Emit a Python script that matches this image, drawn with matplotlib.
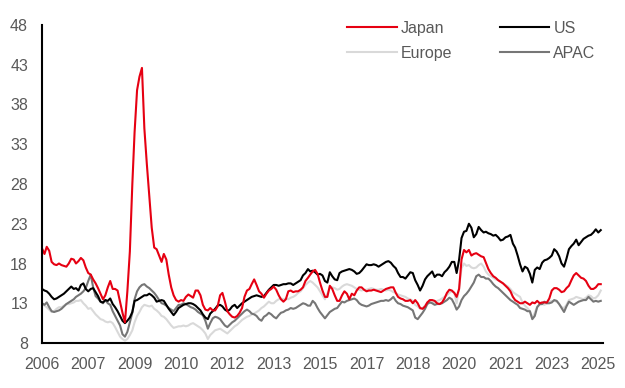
import matplotlib
matplotlib.use("Agg")
import matplotlib.pyplot as plt
import matplotlib.dates as mdates
import pandas as pd

# Monthly values, Jan 2006 .. Feb 2025
START = "2006-01-01"

japan = [
    19.9, 19.2, 20.1, 19.6, 18.2, 17.9, 17.8, 18.0, 17.8, 17.7,
    17.6, 18.0, 18.6, 18.5, 18.0, 18.3, 18.7, 18.4, 17.5, 16.8,
    16.6, 16.0, 15.5, 14.9, 14.2, 13.5, 14.0, 15.0, 15.8, 14.8,
    14.8, 14.6, 13.2, 11.8, 10.6, 14.5, 19.5, 28.0, 34.5, 39.8,
    41.5, 42.6, 35.0, 30.5, 26.5, 22.5, 20.0, 19.8, 19.0, 18.2,
    19.2, 18.5, 16.6, 15.0, 14.0, 13.4, 13.2, 13.4, 13.3, 13.8,
    14.1, 13.9, 13.7, 14.6, 14.6, 14.0, 12.8, 12.2, 12.1, 12.4,
    12.1, 12.1, 12.6, 14.0, 14.3, 13.2, 12.0, 11.6, 11.3, 11.2,
    11.4, 11.8, 12.4, 13.8, 14.6, 14.8, 15.4, 16.0, 15.3, 14.5,
    14.2, 13.7, 14.2, 14.6, 14.8, 15.1, 14.7, 14.0, 13.5, 13.2,
    13.5, 14.5, 14.6, 14.4, 14.5, 14.5, 14.7, 15.0, 15.8, 16.2,
    16.6, 17.0, 17.2, 16.7, 15.6, 14.6, 13.8, 13.8, 15.2, 14.8,
    14.0, 13.3, 13.3, 14.0, 14.5, 14.2, 13.5, 14.2, 14.0, 14.6,
    15.0, 15.0, 14.7, 14.5, 14.6, 14.6, 14.7, 14.6, 14.5, 14.4,
    14.6, 14.8, 14.9, 15.0, 15.0, 14.3, 13.8, 13.6, 13.5, 13.3,
    13.3, 13.4, 13.0, 13.4, 13.0, 12.4, 12.3, 12.6, 13.1, 13.4,
    13.4, 13.3, 13.0, 12.9, 13.1, 13.6, 14.3, 14.7, 14.6, 14.3,
    13.8, 14.8, 18.5, 19.7, 19.4, 19.7, 19.0, 19.2, 19.3, 19.1,
    18.9, 18.8, 18.1, 17.3, 16.8, 16.4, 16.2, 15.9, 15.7, 15.5,
    15.2, 14.9, 14.5, 13.8, 13.4, 13.2, 13.0, 13.0, 13.2, 13.0,
    12.8, 13.1, 13.0, 13.3, 13.0, 13.1, 13.1, 13.1, 13.6, 14.6,
    14.9, 14.9, 14.7, 14.4, 14.5, 14.9, 15.2, 15.9, 16.5, 16.8,
    16.5, 16.2, 16.1, 15.8, 15.2, 14.8, 14.8, 15.0, 15.4, 15.4,
]

us = [
    14.8, 14.6, 14.5, 14.2, 13.8, 13.5, 13.6, 13.8, 14.0, 14.2,
    14.5, 14.8, 15.1, 14.8, 14.9, 14.6, 15.3, 15.5, 14.8, 14.5,
    14.8, 14.9, 14.4, 13.9, 13.2, 13.1, 13.4, 13.3, 13.6, 12.9,
    12.5, 12.0, 11.4, 10.8, 10.5, 10.8, 11.2, 11.9, 13.3, 13.4,
    13.6, 13.8, 14.0, 14.0, 14.2, 14.0, 13.7, 13.2, 13.3, 13.4,
    13.3, 12.8, 12.3, 11.9, 11.5, 11.9, 12.4, 12.6, 12.8, 12.9,
    13.0, 13.0, 12.9, 12.7, 12.4, 12.1, 11.6, 11.2, 11.0, 11.7,
    12.0, 12.3, 12.7, 12.8, 12.6, 12.2, 12.0, 12.2, 12.6, 12.8,
    12.4, 12.7, 13.0, 13.2, 13.4, 13.6, 13.8, 13.9, 14.0, 13.9,
    13.8, 13.9, 14.3, 14.7, 15.0, 15.3, 15.3, 15.2, 15.3, 15.4,
    15.4, 15.5, 15.5, 15.3, 15.5, 15.7, 15.9, 16.5, 16.8, 17.3,
    17.0, 17.1, 16.9, 16.6, 16.7, 16.5, 15.8, 15.6, 16.9, 16.4,
    16.0, 15.9, 16.8, 17.0, 17.1, 17.2, 17.3, 17.2, 17.0, 16.7,
    16.8, 17.1, 17.5, 17.9, 17.8, 17.8, 17.9, 17.8, 17.6, 17.8,
    18.0, 18.2, 18.3, 18.1, 17.7, 17.4, 16.8, 16.3, 16.3, 16.1,
    16.5, 16.9, 16.8, 15.9, 15.3, 14.6, 15.2, 16.0, 16.4, 16.7,
    17.0, 16.3, 16.6, 16.6, 16.4, 16.9, 17.2, 17.6, 18.2, 18.2,
    16.8, 18.5, 21.2, 22.0, 22.1, 23.0, 22.5, 21.3, 21.7, 22.6,
    22.2, 21.9, 22.0, 21.8, 21.7, 21.5, 21.6, 21.3, 20.9, 21.0,
    21.3, 21.4, 21.6, 20.5, 20.0, 19.0, 17.9, 17.0, 17.6, 17.4,
    16.7, 15.6, 17.2, 17.5, 17.3, 18.1, 18.4, 18.5, 18.7, 19.0,
    19.8, 19.5, 18.9, 18.0, 17.6, 18.6, 19.8, 20.2, 20.5, 21.0,
    20.3, 20.7, 21.1, 21.3, 21.5, 21.6, 21.9, 22.3, 21.9, 22.2,
]

europe = [
    13.0, 12.7, 12.5, 12.2, 11.9, 12.0, 12.3, 12.5, 12.5, 12.7,
    12.9, 12.9, 13.0, 13.1, 13.3, 13.3, 13.4, 13.0, 12.7, 12.3,
    12.4, 12.0, 11.6, 11.3, 11.0, 10.9, 10.7, 10.6, 10.7, 10.5,
    10.0, 9.4, 8.8, 8.5, 8.3, 8.5, 9.0, 9.6, 10.6, 11.4,
    11.9, 12.5, 12.8, 12.7, 12.6, 12.7, 12.3, 12.1, 11.8, 11.4,
    11.3, 11.0, 10.6, 10.2, 9.9, 10.0, 10.1, 10.1, 10.2, 10.1,
    10.2, 10.4, 10.5, 10.3, 10.1, 9.9, 9.6, 9.2, 8.5, 9.0,
    9.3, 9.6, 9.7, 9.8, 9.6, 9.4, 9.2, 9.5, 9.8, 10.1,
    10.3, 10.6, 10.9, 11.1, 11.3, 11.4, 11.6, 11.7, 11.9, 12.1,
    12.4, 12.6, 12.9, 13.2, 13.0, 13.0, 13.3, 13.5, 13.6, 13.5,
    13.6, 13.5, 13.7, 13.8, 14.0, 14.3, 14.5, 14.9, 15.3, 15.6,
    15.8, 15.6, 15.3, 15.0, 14.5, 14.0, 13.5, 14.2, 14.9, 15.0,
    14.9, 14.7, 14.8, 15.1, 15.3, 15.4, 15.3, 15.2, 15.0, 14.8,
    14.7, 14.6, 14.7, 14.7, 14.8, 14.9, 14.8, 14.7, 14.7, 14.8,
    14.7, 14.6, 14.7, 14.6, 14.4, 14.3, 14.1, 14.0, 13.9, 13.8,
    13.6, 13.5, 13.3, 12.8, 12.6, 12.3, 12.4, 12.7, 13.1, 13.2,
    13.1, 13.1, 13.3, 13.4, 13.6, 13.8, 14.0, 14.3, 14.5, 14.3,
    13.0, 15.0, 17.4, 18.0, 17.7, 17.8, 17.5, 17.4, 17.5, 17.8,
    18.0, 17.6, 17.0, 16.6, 16.4, 16.2, 16.0, 15.9, 15.7, 15.5,
    15.3, 15.1, 14.8, 14.4, 14.2, 14.0, 13.8, 13.1, 12.7, 12.4,
    12.0, 11.2, 11.8, 12.6, 12.8, 12.9, 12.8, 13.0, 13.2, 13.3,
    13.3, 13.2, 12.9, 12.5, 12.4, 12.8, 13.4, 13.5, 13.6, 13.8,
    13.7, 13.6, 13.5, 13.7, 14.0, 13.9, 13.6, 13.7, 14.0, 14.6,
]

apac = [
    13.0, 12.8, 13.1, 12.5, 12.0, 11.9, 12.0, 12.1, 12.3, 12.6,
    12.9, 13.1, 13.3, 13.5, 13.8, 14.0, 14.2, 14.5, 14.9, 15.8,
    16.6, 15.0, 13.9, 13.6, 13.2, 13.0, 13.4, 13.0, 12.8, 12.0,
    11.4, 10.8, 10.2, 9.1, 8.8, 9.4, 10.6, 11.8, 13.5, 14.5,
    15.0, 15.3, 15.4, 15.1, 14.9, 14.6, 14.3, 13.9, 13.4, 13.0,
    12.9, 12.7, 12.4, 12.2, 12.0, 12.4, 12.8, 12.8, 13.0, 12.9,
    12.7, 12.5, 12.4, 12.2, 11.9, 11.7, 11.5, 10.8, 9.8, 10.5,
    11.1, 11.3, 11.2, 11.0, 10.6, 10.2, 10.0, 10.3, 10.6, 10.8,
    11.1, 11.4, 11.7, 12.0, 12.2, 12.0, 11.7, 11.6, 11.4, 11.0,
    10.8, 11.3, 11.5, 11.8, 11.6, 11.3, 11.1, 11.5, 11.8, 11.9,
    12.1, 12.2, 12.4, 12.3, 12.4, 12.6, 12.8, 13.0, 12.9, 12.7,
    12.7, 13.3, 13.0, 12.4, 11.9, 11.5, 11.1, 11.5, 11.9, 12.1,
    12.3, 12.4, 12.8, 13.2, 13.1, 13.3, 13.4, 13.5, 13.6, 13.4,
    13.0, 12.8, 12.7, 12.6, 12.7, 12.9, 13.0, 13.1, 13.2, 13.3,
    13.3, 13.4, 13.3, 13.5, 13.8, 13.3, 13.0, 12.9, 12.7, 12.6,
    12.5, 12.3, 12.1, 11.2, 11.0, 11.4, 11.8, 12.3, 12.9, 13.1,
    13.0, 12.8, 12.9, 12.9, 13.0, 13.2, 13.4, 13.7, 13.5, 12.9,
    12.2, 12.6, 13.4, 13.9, 14.2, 14.6, 15.1, 15.6, 16.4, 16.6,
    16.3, 16.3, 16.1, 16.1, 15.8, 15.4, 15.1, 14.9, 14.6, 14.3,
    14.0, 13.7, 13.4, 13.2, 13.0, 12.8, 12.4, 12.3, 12.2, 12.0,
    12.0, 11.0, 11.4, 12.5, 12.9, 12.9, 13.2, 13.0, 13.0, 13.1,
    13.4, 13.3, 12.9, 12.4, 11.9, 12.6, 13.2, 13.0, 12.8, 13.0,
    13.2, 13.3, 13.4, 13.4, 13.8, 13.5, 13.2, 13.3, 13.2, 13.3,
]

Y_TICKS = [8, 13, 18, 23, 28, 33, 38, 43, 48]

COLORS = {"Japan": "#e60012", "US": "#000000", "Europe": "#d9d9d9", "APAC": "#767676"}
TEXT_GREY = "#595959"

plt.rcParams.update({
    "font.family": ["Liberation Sans", "DejaVu Sans"],
    "font.size": 11.5,
})

dates = pd.date_range(START, periods=len(japan), freq="MS")

fig = plt.figure(figsize=(6.25, 3.88), dpi=100)
ax = fig.add_axes([42 / 625, 1 - 343 / 388, (603 - 42) / 625, (343 - 25) / 388])

series = {"Japan": japan, "US": us, "Europe": europe, "APAC": apac}
lines = {}
for name in ["Europe", "APAC", "US", "Japan"]:
    (ln,) = ax.plot(dates, series[name], color=COLORS[name], lw=1.5, label=name)
    lines[name] = ln

ax.set_ylim(8, 48)
ax.set_yticks(Y_TICKS)
ax.set_xlim(pd.Timestamp(START), pd.Timestamp("2025-03-01"))
ax.set_xticks(pd.date_range(START, periods=13, freq="19MS"))
ax.xaxis.set_major_formatter(mdates.DateFormatter("%Y"))

for side in ["top", "right"]:
    ax.spines[side].set_visible(False)
for side in ["left", "bottom"]:
    ax.spines[side].set_linewidth(1.5)
    ax.spines[side].set_color("black")
ax.tick_params(axis="both", length=0, colors=TEXT_GREY, labelsize=11.5)
ax.tick_params(axis="y", pad=10)
ax.tick_params(axis="x", pad=10)

order = ["Japan", "Europe", "US", "APAC"]
fig.legend([lines[n] for n in order], order, ncol=2, frameon=False,
           loc="upper left", bbox_to_anchor=(347 / 625, 1 - 21 / 388),
           borderpad=0, borderaxespad=0, handlelength=3.1, handletextpad=0.25,
           columnspacing=3.0, labelspacing=0.6, labelcolor=TEXT_GREY,
           fontsize=11.5)

fig.savefig("out.png", dpi=100)
